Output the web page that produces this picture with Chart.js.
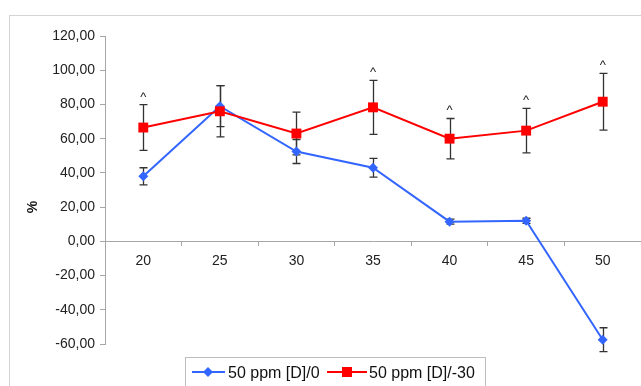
<!DOCTYPE html>
<html>
<head>
<meta charset="utf-8">
<title>50 ppm [D]</title>
<script src="https://cdn.jsdelivr.net/npm/chart.js@4.4.1/dist/chart.umd.min.js"></script>
<style>
  html, body { margin: 0; padding: 0; background: #fff; }
  #wrap { width: 641px; height: 386px; overflow: hidden; }
</style>
</head>
<body>
<div id="wrap"><canvas id="chart" width="641" height="386"></canvas></div>
<script>
/* ---- Daten ---- */
const categories = ['20', '25', '30', '35', '40', '45', '50'];
const seriesNames = ['50 ppm [D]/0', '50 ppm [D]/-30'];
const valuesD0  = [38, 79, 52.5, 43, 11.5, 12, -57.5];
const errorsD0  = [5, 12, 7, 5.5, 1.5, 1.5, 7];
const valuesD30 = [66.5, 76, 63, 78.3, 60, 64.7, 81.6];
const errorsD30 = [13.4, 15, 12.5, 15.8, 11.8, 13, 16.6];
const markedD30 = [true, false, false, true, true, true, true];   // '^' über dem Fehlerbalken
const yMin = -60, yMax = 120, yStep = 20;

const FONT = "'Liberation Sans', Arial, sans-serif";
const BLUE = '#3366ff';
const RED = '#ff0000';
const AXIS = '#a6a6a6';

/* ---- Rahmen + Hintergrund ---- */
const framePlugin = {
  id: 'frame',
  beforeDraw(chart) {
    const ctx = chart.ctx;
    ctx.save();
    ctx.fillStyle = '#fff';
    ctx.fillRect(0, 0, chart.width, chart.height);
    ctx.strokeStyle = '#d4d4d4';
    ctx.lineWidth = 1;
    ctx.strokeRect(9.5, 15.5, chart.width + 20, chart.height + 20);
    ctx.restore();
  }
};

/* ---- Fehlerbalken (unter den Linien) ---- */
const errorBarPlugin = {
  id: 'errorBars',
  beforeDatasetsDraw(chart) {
    const ctx = chart.ctx;
    const x = chart.scales.x, y = chart.scales.y;
    ctx.save();
    ctx.strokeStyle = '#333';
    ctx.lineWidth = 1.3;
    chart.data.datasets.forEach(ds => {
      ds.values.forEach((v, i) => {
        const px = Math.round(x.getPixelForValue(i)) + 0.5;
        const top = y.getPixelForValue(v + ds.errors[i]);
        const bot = y.getPixelForValue(v - ds.errors[i]);
        ctx.beginPath();
        ctx.moveTo(px, top); ctx.lineTo(px, bot);
        ctx.moveTo(px - 4, top); ctx.lineTo(px + 4, top);
        ctx.moveTo(px - 4, bot); ctx.lineTo(px + 4, bot);
        ctx.stroke();
      });
    });
    ctx.restore();
  },
  afterDatasetsDraw(chart) {
    const ctx = chart.ctx;
    const x = chart.scales.x, y = chart.scales.y;
    ctx.save();
    ctx.fillStyle = '#222';
    ctx.font = '13px ' + FONT;
    ctx.textAlign = 'center';
    ctx.textBaseline = 'alphabetic';
    markedD30.forEach((m, i) => {
      if (!m) return;
      const top = y.getPixelForValue(valuesD30[i] + errorsD30[i]);
      ctx.fillText('^', x.getPixelForValue(i), top - 4);
    });
    ctx.restore();
  }
};

/* ---- Achsentitel + Legende ---- */
const legendPlugin = {
  id: 'ownLegend',
  afterDraw(chart) {
    const ctx = chart.ctx;
    ctx.save();
    // "%"
    ctx.translate(33, 207);
    ctx.rotate(-Math.PI / 2);
    ctx.font = 'bold 14px ' + FONT;
    ctx.fillStyle = '#111';
    ctx.textAlign = 'center';
    ctx.textBaseline = 'middle';
    ctx.fillText('%', 0, 0);
    ctx.restore();

    ctx.save();
    ctx.strokeStyle = '#bdbdbd';
    ctx.lineWidth = 1;
    ctx.strokeRect(185.5, 357.5, 300, 40);

    const ly = 372;
    // blaue Probe
    ctx.strokeStyle = BLUE; ctx.lineWidth = 2;
    ctx.beginPath(); ctx.moveTo(192, ly); ctx.lineTo(225, ly); ctx.stroke();
    ctx.fillStyle = BLUE;
    ctx.beginPath();
    ctx.moveTo(208, ly - 5); ctx.lineTo(213, ly); ctx.lineTo(208, ly + 5); ctx.lineTo(203, ly);
    ctx.closePath(); ctx.fill();
    // rote Probe
    ctx.strokeStyle = RED;
    ctx.beginPath(); ctx.moveTo(327, ly); ctx.lineTo(367, ly); ctx.stroke();
    ctx.fillStyle = RED;
    ctx.fillRect(342, ly - 5, 10, 10);

    ctx.font = '16px ' + FONT;
    ctx.fillStyle = '#111';
    ctx.textBaseline = 'alphabetic';
    ctx.fillText(seriesNames[0], 228, 378);
    ctx.fillText(seriesNames[1], 369, 378);
    ctx.restore();
  }
};

new Chart(document.getElementById('chart'), {
  type: 'line',
  data: {
    labels: categories,
    datasets: [
      {
        label: seriesNames[0],
        data: valuesD0,
        values: valuesD0,
        errors: errorsD0,
        borderColor: BLUE,
        backgroundColor: BLUE,
        borderWidth: 2,
        pointStyle: 'rectRot',
        pointRadius: 5,
        pointBorderWidth: 0,
        tension: 0,
        clip: false,
        order: 2
      },
      {
        label: seriesNames[1],
        data: valuesD30,
        values: valuesD30,
        errors: errorsD30,
        borderColor: RED,
        backgroundColor: RED,
        borderWidth: 2,
        pointStyle: 'rect',
        pointRadius: 7,
        pointBorderWidth: 0,
        tension: 0,
        clip: false,
        order: 1
      }
    ]
  },
  options: {
    responsive: false,
    animation: false,
    devicePixelRatio: 1,
    layout: { autoPadding: false, padding: { top: 36, right: 0, bottom: 42, left: 0 } },
    plugins: { legend: { display: false }, tooltip: { enabled: false } },
    scales: {
      x: {
        type: 'category',
        position: { y: 0 },
        offset: true,
        afterFit(scale) { scale.paddingLeft = 0; scale.paddingRight = 0; },
        border: { display: true, color: AXIS, width: 1 },
        grid: { offset: true, drawOnChartArea: false, drawTicks: true, tickLength: 4, color: AXIS },
        ticks: { color: '#222', padding: 7, font: { family: FONT, size: 14 }, maxRotation: 0 }
      },
      y: {
        min: yMin, max: yMax,
        afterFit(scale) { scale.width = 105; },
        border: { display: true, color: AXIS, width: 1 },
        grid: { drawOnChartArea: false, drawTicks: true, tickLength: 5, color: AXIS },
        ticks: {
          stepSize: yStep,
          padding: 5,
          color: '#222',
          font: { family: FONT, size: 14 },
          callback: v => v.toFixed(2).replace('.', ',')
        }
      }
    }
  },
  plugins: [framePlugin, errorBarPlugin, legendPlugin]
});
</script>
</body>
</html>
